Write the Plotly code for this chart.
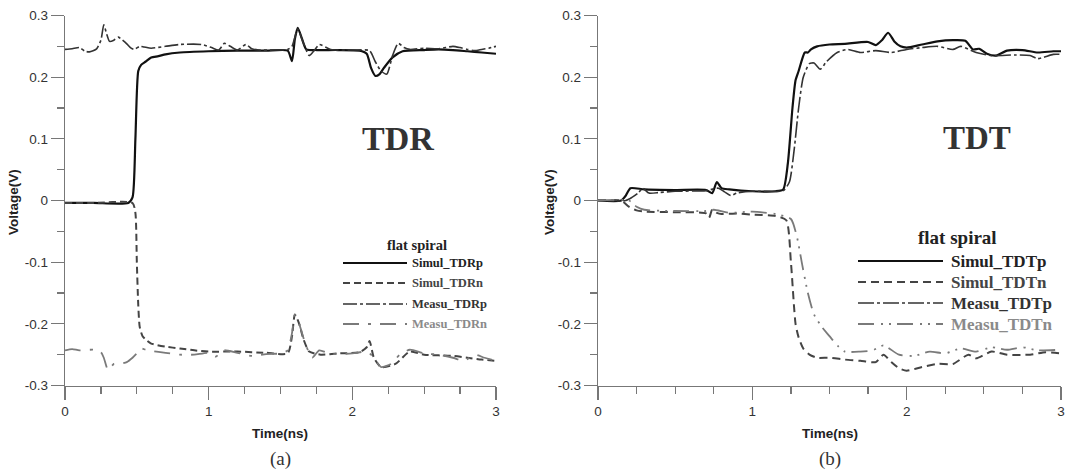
import plotly.graph_objects as go

# ---------------- data ----------------
# Panel (a) TDR
t_tdrp_sim = [0, 0.2, 0.44, 0.47, 0.49, 0.51, 0.53, 0.56, 0.6, 0.65, 0.7, 0.8, 1.0, 1.2, 1.4, 1.55, 1.58, 1.6, 1.62, 1.65, 1.68, 1.75, 1.9, 2.05, 2.1, 2.13, 2.16, 2.19, 2.22, 2.28, 2.35, 2.5, 2.6, 2.7, 2.8, 2.9, 3.0]
v_tdrp_sim = [-0.004, -0.004, -0.004, 0.005, 0.1, 0.21, 0.22, 0.225, 0.232, 0.234, 0.237, 0.24, 0.242, 0.243, 0.243, 0.243, 0.226, 0.262, 0.28, 0.262, 0.245, 0.244, 0.244, 0.243, 0.238, 0.215, 0.202, 0.205, 0.215, 0.232, 0.242, 0.244, 0.245, 0.244, 0.242, 0.24, 0.238]

t_tdrn_sim = [0, 0.2, 0.47, 0.49, 0.5, 0.51, 0.52, 0.54, 0.57, 0.6, 0.7, 0.8, 0.9, 1.0, 1.2, 1.4, 1.55, 1.58, 1.6, 1.63, 1.66, 1.7, 1.78, 1.9, 2.05, 2.1, 2.12, 2.15, 2.2, 2.3, 2.4, 2.5, 2.7, 2.8, 2.9, 3.0]
v_tdrn_sim = [-0.004, -0.004, -0.004, -0.02, -0.1, -0.17, -0.205, -0.22, -0.227, -0.232, -0.237, -0.24, -0.243, -0.245, -0.245, -0.247, -0.248, -0.22, -0.185, -0.2, -0.225, -0.245, -0.25, -0.248, -0.246, -0.238, -0.228, -0.255, -0.27, -0.265, -0.245, -0.25, -0.252, -0.255, -0.258, -0.26]

t_tdrp_mea = [0, 0.05, 0.1, 0.14, 0.17, 0.22, 0.25, 0.27, 0.29, 0.31, 0.34, 0.37, 0.4, 0.43, 0.46, 0.48, 0.52, 0.55, 0.6, 0.7, 0.8, 0.95, 1.02, 1.07, 1.11, 1.15, 1.2, 1.26, 1.3, 1.35, 1.45, 1.55, 1.58, 1.62, 1.66, 1.7, 1.74, 1.77, 1.85, 2.0, 2.12, 2.16, 2.2, 2.24, 2.28, 2.32, 2.36, 2.4, 2.5, 2.6, 2.7, 2.75, 2.8, 2.85, 2.9, 2.95, 3.0]
v_tdrp_mea = [0.245, 0.246, 0.248, 0.242, 0.241, 0.246, 0.26, 0.285, 0.27, 0.258, 0.26, 0.265, 0.26, 0.254, 0.247, 0.245, 0.25, 0.249, 0.247, 0.25, 0.253, 0.253, 0.248, 0.244, 0.255, 0.25, 0.244, 0.253, 0.246, 0.244, 0.244, 0.245, 0.25, 0.278, 0.255, 0.235, 0.245, 0.253, 0.245, 0.244, 0.243, 0.225, 0.21, 0.205, 0.235, 0.255, 0.248, 0.245, 0.247, 0.246, 0.25, 0.248, 0.245, 0.243, 0.245, 0.247, 0.25]

t_tdrn_mea = [0, 0.05, 0.1, 0.2, 0.25, 0.27, 0.3, 0.34, 0.38, 0.43, 0.47, 0.5, 0.53, 0.56, 0.6, 0.7, 0.8, 0.9, 1.0, 1.05, 1.1, 1.2, 1.3, 1.4, 1.5, 1.55, 1.58, 1.6, 1.63, 1.67, 1.72, 1.77, 1.85, 2.0, 2.1, 2.13, 2.17, 2.2, 2.27, 2.33, 2.4, 2.5, 2.6, 2.7, 2.78, 2.85, 2.92, 3.0]
v_tdrn_mea = [-0.243, -0.241, -0.243, -0.242, -0.246, -0.255, -0.275, -0.265, -0.265, -0.262, -0.255, -0.248, -0.24, -0.242, -0.244, -0.247, -0.25, -0.25, -0.247, -0.253, -0.243, -0.247, -0.252, -0.249, -0.248, -0.243, -0.215, -0.185, -0.2, -0.23, -0.255, -0.243, -0.249, -0.248, -0.245, -0.25, -0.262, -0.27, -0.265, -0.25, -0.242, -0.248, -0.25, -0.255, -0.26, -0.25, -0.255, -0.26]

# Panel (b) TDT
t_tdtp_sim = [0, 0.15, 0.18, 0.21, 0.3, 0.5, 0.7, 0.74, 0.77, 0.8, 0.85, 1.0, 1.15, 1.2, 1.23, 1.26, 1.28, 1.3, 1.34, 1.36, 1.38, 1.42, 1.5, 1.6, 1.75, 1.8, 1.84, 1.88, 1.92, 1.96, 2.0, 2.1, 2.2, 2.3, 2.38, 2.43, 2.47, 2.52, 2.58, 2.65, 2.75, 2.85, 2.95, 3.0]
v_tdtp_sim = [0, 0, 0.008, 0.02, 0.018, 0.017, 0.017, 0.012, 0.03, 0.02, 0.018, 0.015, 0.015, 0.018, 0.06, 0.15, 0.195, 0.21, 0.24, 0.24, 0.245, 0.25, 0.253, 0.254, 0.257, 0.252, 0.26, 0.272, 0.258, 0.25, 0.248, 0.253, 0.258, 0.26, 0.259, 0.245, 0.246, 0.238, 0.235, 0.243, 0.244, 0.24, 0.242, 0.242]

t_tdtn_sim = [0, 0.15, 0.2, 0.25, 0.3, 0.5, 0.7, 0.72, 0.74, 0.77, 0.8, 0.9, 1.0, 1.15, 1.22, 1.25, 1.28, 1.3, 1.33, 1.37, 1.42, 1.5, 1.6, 1.7, 1.8, 1.85, 1.9, 1.95, 2.0, 2.1, 2.2, 2.3, 2.4, 2.45, 2.55, 2.65, 2.8, 2.9, 3.0]
v_tdtn_sim = [0, 0, -0.01, -0.016, -0.018, -0.019, -0.021, -0.028, -0.015, -0.02, -0.022, -0.021, -0.023, -0.025, -0.032, -0.1, -0.2, -0.222, -0.24, -0.25, -0.255, -0.255, -0.258, -0.26, -0.262, -0.25, -0.262, -0.272, -0.276, -0.27, -0.265, -0.265, -0.25, -0.256, -0.245, -0.25, -0.25, -0.246, -0.248]

t_tdtp_mea = [0, 0.18, 0.22, 0.26, 0.29, 0.33, 0.4, 0.5, 0.7, 0.78, 0.82, 0.86, 0.9, 1.0, 1.2, 1.24, 1.27, 1.3, 1.33, 1.37, 1.4, 1.44, 1.48, 1.55, 1.62, 1.7, 1.8, 1.9, 2.0, 2.1, 2.2, 2.3, 2.35, 2.45, 2.55, 2.7, 2.8, 2.85, 2.95, 3.0]
v_tdtp_mea = [0, 0, 0.005, 0.012, 0.02, 0.012, 0.013, 0.015, 0.016, 0.02, 0.014, 0.008, 0.012, 0.015, 0.016, 0.03, 0.08, 0.15, 0.2, 0.222, 0.223, 0.213, 0.225, 0.24, 0.245, 0.24, 0.243, 0.24, 0.245, 0.248, 0.25, 0.245, 0.25, 0.24, 0.235, 0.236, 0.235, 0.23, 0.237, 0.237]

t_tdtn_mea = [0, 0.2, 0.25, 0.3, 0.5, 0.7, 0.75, 0.85, 1.0, 1.15, 1.25, 1.29, 1.32, 1.36, 1.4, 1.45, 1.5, 1.55, 1.6, 1.7, 1.78, 1.85, 1.95, 2.05, 2.15, 2.25, 2.35, 2.45, 2.55, 2.65, 2.75, 2.85, 3.0]
v_tdtn_mea = [0, 0, -0.01, -0.015, -0.017, -0.017, -0.015, -0.02, -0.018, -0.022, -0.03, -0.06, -0.1, -0.15, -0.185, -0.205, -0.22, -0.235, -0.245, -0.245, -0.243, -0.235, -0.25, -0.252, -0.245, -0.248, -0.24, -0.245, -0.238, -0.242, -0.238, -0.243, -0.242]

x_tickvals = [0, 1, 2, 3]
x_ticktext = ["0", "1", "2", "3"]
y_tickvals = [-0.3, -0.2, -0.1, 0, 0.1, 0.2, 0.3]
y_ticktext = ["-0.3", "-0.2", "-0.1", "0", "0.1", "0.2", "0.3"]

names_a = ["Simul_TDRp", "Simul_TDRn", "Measu_TDRp", "Measu_TDRn"]
names_b = ["Simul_TDTp", "Simul_TDTn", "Measu_TDTp", "Measu_TDTn"]

# ---------------- styles ----------------
W, H = 1070, 474
styles_a = [
    dict(color="#111111", width=2.2, dash="solid"),
    dict(color="#444444", width=2.0, dash="7px,4px"),
    dict(color="#333333", width=1.6, dash="14px,3px,3px,3px"),
    dict(color="#7a7a7a", width=1.8, dash="16px,9px,3px,9px"),
]
styles_b = [
    dict(color="#111111", width=2.2, dash="solid"),
    dict(color="#444444", width=2.0, dash="8px,5px"),
    dict(color="#333333", width=1.6, dash="16px,3px,3px,3px"),
    dict(color="#7a7a7a", width=1.8, dash="16px,7px,2px,6px,2px,6px"),
]
text_colors = ["#222222", "#444444", "#333333", "#8a8a8a"]

fig = go.Figure()

series_a = [(t_tdrp_sim, v_tdrp_sim), (t_tdrn_sim, v_tdrn_sim), (t_tdrp_mea, v_tdrp_mea), (t_tdrn_mea, v_tdrn_mea)]
series_b = [(t_tdtp_sim, v_tdtp_sim), (t_tdtn_sim, v_tdtn_sim), (t_tdtp_mea, v_tdtp_mea), (t_tdtn_mea, v_tdtn_mea)]

for (t, v), nm, st in zip(series_a, names_a, styles_a):
    fig.add_trace(go.Scatter(x=t, y=v, mode="lines", name=nm, line=dict(shape="spline", smoothing=0.6, **st),
                             xaxis="x", yaxis="y", showlegend=False, cliponaxis=False))
for (t, v), nm, st in zip(series_b, names_b, styles_b):
    fig.add_trace(go.Scatter(x=t, y=v, mode="lines", name=nm, line=dict(shape="spline", smoothing=0.6, **st),
                             xaxis="x2", yaxis="y2", showlegend=False, cliponaxis=False))


def px(x):
    return x / W


def py(y):
    return 1 - y / H


y_dom = [py(385.5), py(15.5)]
ax_common = dict(showline=True, linecolor="#777777", linewidth=1.2, showgrid=False, zeroline=False,
                 automargin=False, ticks="outside", tickcolor="#777777", tickwidth=1.2,
                 tickfont=dict(family="Liberation Sans, Arial", size=13.5, color="#333333"))

xa = dict(ax_common, range=[0, 3], tickvals=x_tickvals, ticktext=x_ticktext, ticklen=13,
          minor=dict(dtick=0.25, ticklen=7, ticks="outside", tickcolor="#777777", tickwidth=1.2))
ya = dict(ax_common, range=[-0.3, 0.3], tickvals=y_tickvals, ticktext=y_ticktext, ticklen=13,
          minor=dict(dtick=0.05, ticklen=7, ticks="outside", tickcolor="#777777", tickwidth=1.2))

fig.update_layout(
    width=W, height=H, margin=dict(l=0, r=0, t=0, b=0, pad=0, autoexpand=False),
    paper_bgcolor="white", plot_bgcolor="white", hovermode=False,
    xaxis=dict(xa, domain=[px(65), px(496)], anchor="y"),
    yaxis=dict(ya, domain=y_dom, anchor="x"),
    xaxis2=dict(xa, domain=[px(598), px(1061)], anchor="y2"),
    yaxis2=dict(ya, domain=y_dom, anchor="x2"),
)

ann = []
shapes = []
sans = "Liberation Sans, Arial"
serif = "Liberation Serif, Times New Roman"


def text(x, y, s, font, xanchor="center", angle=0):
    ann.append(dict(x=px(x), y=py(y), xref="paper", yref="paper", text=s, showarrow=False,
                    xanchor=xanchor, yanchor="middle", textangle=angle, font=font,
                    borderpad=0, borderwidth=0))


for cx, lab, vx in [(280, "(a)", 13), (830, "(b)", 549)]:
    text(cx, 433, "<b>Time(ns)</b>", dict(family=sans, size=13.5, color="#222222"))
    text(cx, 459, lab, dict(family=serif, size=19, color="#333333"))
    text(vx, 202, "<b>Voltage(V)</b>", dict(family=sans, size=13.5, color="#222222"), angle=-90)

text(398, 138, "<b>TDR</b>", dict(family=serif, size=34, color="#333333"))
text(977, 138, "<b>TDT</b>", dict(family=serif, size=33, color="#333333"))

# manual legends
legs = [
    dict(names=names_a, styles=styles_a, x0=343, x1=407, tx=412, rows=[263, 283, 304, 324], title_x=417, title_y=245,
         fs=12.5, tfs=14.5),
    dict(names=names_b, styles=styles_b, x0=858, x1=943, tx=951, rows=[261, 282, 303, 324], title_x=957, title_y=237,
         fs=17, tfs=19),
]
for lg in legs:
    text(lg["title_x"], lg["title_y"], "<b>flat spiral</b>", dict(family=serif, size=lg["tfs"], color="#222222"))
    for nm, st, ry, tc in zip(lg["names"], lg["styles"], lg["rows"], text_colors):
        shapes.append(dict(type="line", xref="paper", yref="paper", x0=px(lg["x0"]), x1=px(lg["x1"]),
                           y0=py(ry), y1=py(ry), line=dict(color=st["color"], width=st["width"], dash=st["dash"])))
        text(lg["tx"], ry, "<b>" + nm + "</b>", dict(family=serif, size=lg["fs"], color=tc), xanchor="left")

fig.update_layout(annotations=ann, shapes=shapes)
fig.write_html("out.html", config={"displayModeBar": False, "staticPlot": True},
               post_script="document.body.style.margin='0px';document.body.style.overflow='hidden';")
